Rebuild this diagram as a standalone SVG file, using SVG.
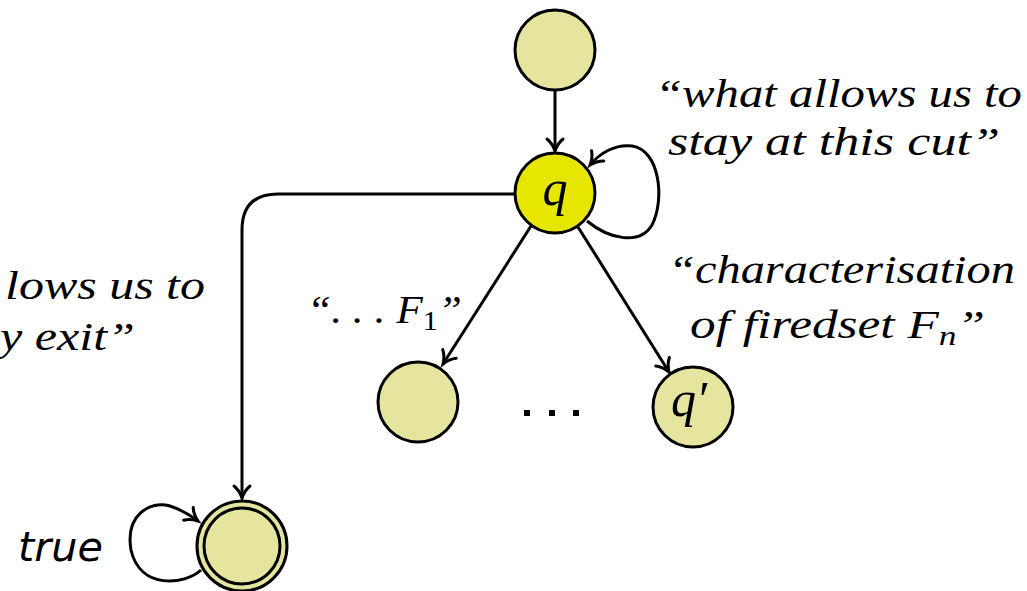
<svg xmlns="http://www.w3.org/2000/svg" width="1027" height="591" viewBox="0 0 1027 591">
  <style>
    .state { fill: #e5e5a0; stroke: #000; stroke-width: 3; }
    .current { fill: #e6e600; stroke: #000; stroke-width: 3; }
    .edge { fill: none; stroke: #000; stroke-width: 3; marker-end: url(#arrow); }
    .note { font-family: 'Liberation Serif', 'DejaVu Serif', serif; font-style: italic; font-size: 39px; fill: #000; }
    .sub { font-style: normal; font-size: 27px; }
    .subi { font-style: italic; font-size: 27px; }
    .lbl { font-family: 'Liberation Serif', serif; font-style: italic; font-size: 50px; fill: #000; }
    .sans { font-family: 'DejaVu Sans', sans-serif; font-style: italic; font-size: 40px; fill: #000; }
  </style>
  <defs>
    <marker id="arrow" markerUnits="userSpaceOnUse" markerWidth="22" markerHeight="22" viewBox="-15 -11 19 22" refX="0" refY="0" orient="auto">
      <path d="M -12 -8 C -8 -3 -3 -1 0 0 C -3 1 -8 3 -12 8" fill="none" stroke="#000" stroke-width="3" stroke-linecap="round"/>
    </marker>
  </defs>

  <rect width="1027" height="591" fill="#fff"/>

  <!-- transitions -->
  <g id="connectors">
    <path class="edge" d="M 555 90 L 555 151"/>
    <path class="edge" d="M 587 221 C 610 240 640 245 652 225 C 665 200 660 150 632 146 C 615 144 600 153 590 165"/>
    <path class="edge" d="M 531 226 L 443 364"/>
    <path class="edge" d="M 578 227 L 669 372"/>
    <path class="edge" d="M 515 194 L 278 194 Q 242 194 242 230 L 242 498"/>
    <path class="edge" d="M 201 570 C 185 585 140 590 131 550 C 125 515 150 500 170 506 C 182 510 190 515 198 521"/>
  </g>

  <g id="init">
    <circle class="state" cx="555" cy="50" r="40"/>
  </g>

  <g id="q">
    <circle class="current" cx="555" cy="193" r="40"/>
    <text class="lbl" x="555" y="205" text-anchor="middle">q</text>
  </g>

  <g id="succ1">
    <circle class="state" cx="418" cy="402" r="40"/>
  </g>

  <g id="qprime">
    <circle class="state" cx="693" cy="407" r="40"/>
    <text class="lbl" x="671" y="416">q′</text>
  </g>

  <g id="accept">
    <circle class="state" cx="242" cy="546" r="45" fill="#fff"/>
    <circle class="state" cx="242" cy="546" r="38"/>
    <text class="sans" x="18" y="561" textLength="85" lengthAdjust="spacingAndGlyphs">true</text>
  </g>

  <!-- ellipsis between successors -->
  <g id="more">
    <rect x="524" y="410" width="6" height="6"/>
    <rect x="549" y="410" width="6" height="6"/>
    <rect x="573" y="410" width="6" height="6"/>
  </g>

  <g id="notes">
    <text class="note" x="655" y="107" textLength="367" lengthAdjust="spacingAndGlyphs">“what allows us to</text>
    <text class="note" x="668" y="155" textLength="332" lengthAdjust="spacingAndGlyphs">stay at this cut”</text>
    <text class="note" x="5" y="299" textLength="200" lengthAdjust="spacingAndGlyphs">lows us to</text>
    <text class="note" x="0" y="350" textLength="135" lengthAdjust="spacingAndGlyphs">y exit”</text>
    <text class="note" x="307" y="323" textLength="155" lengthAdjust="spacingAndGlyphs">“. . . F<tspan class="sub" dy="7">1</tspan><tspan dy="-7">”</tspan></text>
    <text class="note" x="668" y="283" textLength="347" lengthAdjust="spacingAndGlyphs">“characterisation</text>
    <text class="note" x="690" y="338" textLength="295" lengthAdjust="spacingAndGlyphs">of firedset F<tspan class="subi" dy="7">n</tspan><tspan dy="-7">”</tspan></text>
  </g>
</svg>
